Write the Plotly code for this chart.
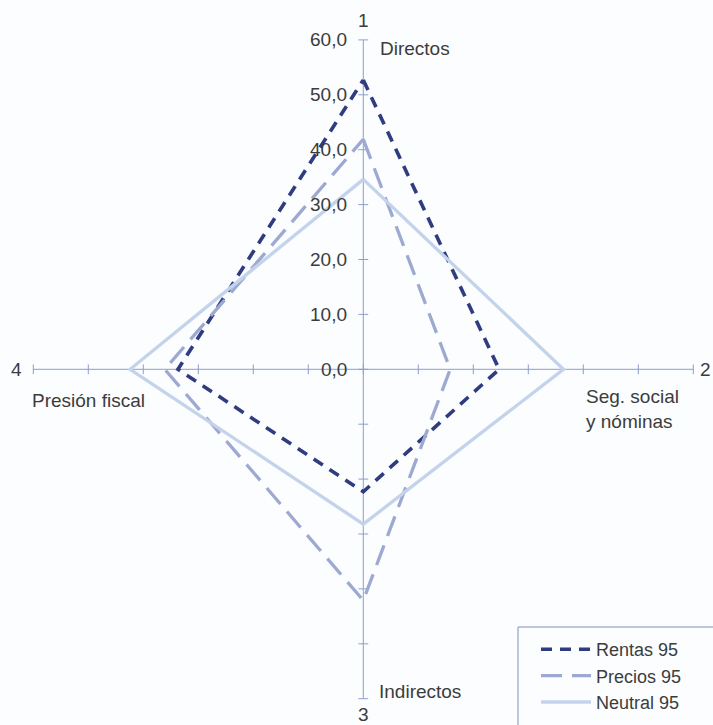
import plotly.graph_objects as go

# ---- data ----
categories = ["Directos", "Seg. social<br>y nóminas", "Indirectos", "Presión fiscal"]
axis_numbers = ["1", "2", "3", "4"]
series_names = ["Rentas 95", "Precios 95", "Neutral 95"]
rentas = [52.7, 24.7, 22.3, 33.7]
precios = [41.9, 15.8, 42.1, 36.1]
neutral = [34.6, 36.4, 28.2, 42.4]
tick_values = [0, 10, 20, 30, 40, 50, 60]
tick_labels = [f"{v:.1f}".replace(".", ",") for v in tick_values]
axis_max = 60

# directions of the 4 axes: up, right, down, left
dirs = [(0, 1), (1, 0), (0, -1), (-1, 0)]


def to_xy(vals):
    xs = [d[0] * v for d, v in zip(dirs, vals)]
    ys = [d[1] * v for d, v in zip(dirs, vals)]
    return xs + xs[:1], ys + ys[:1]


AXIS_COL = "#8e9ecf"
TEXT_COL = "#3c3c3c"
FONT = "Liberation Sans, Arial, sans-serif"
FS = 19

fig = go.Figure()

# axis lines
fig.add_trace(go.Scatter(x=[-axis_max, axis_max], y=[0, 0], mode="lines",
                         line=dict(color=AXIS_COL, width=1), showlegend=False, hoverinfo="skip"))
fig.add_trace(go.Scatter(x=[0, 0], y=[-axis_max, axis_max], mode="lines",
                         line=dict(color=AXIS_COL, width=1), showlegend=False, hoverinfo="skip"))
# tick marks
tv_all = [-v for v in tick_values[:0:-1]] + tick_values
fig.add_trace(go.Scatter(x=tv_all, y=[0] * len(tv_all), mode="markers",
                         marker=dict(symbol="line-ns", size=7, line=dict(color=AXIS_COL, width=1)),
                         showlegend=False, hoverinfo="skip"))
fig.add_trace(go.Scatter(x=[0] * len(tv_all), y=tv_all, mode="markers",
                         marker=dict(symbol="line-ew", size=7, line=dict(color=AXIS_COL, width=1)),
                         showlegend=False, hoverinfo="skip"))

styles = [
    dict(color="#2f3c80", width=3.6, dash="11px,8px"),
    dict(color="#9ea9d2", width=3.3, dash="21px,10px"),
    dict(color="#c4d3ec", width=3.3, dash="solid"),
]
for name, vals, st in zip(series_names, [rentas, precios, neutral], styles):
    xs, ys = to_xy(vals)
    fig.add_trace(go.Scatter(x=xs, y=ys, mode="lines", name=name, line=st))

annotations = []
# tick labels
for v, t in zip(tick_values, tick_labels):
    annotations.append(dict(x=-2.6, y=v, text=t, xanchor="right", yanchor="middle",
                            showarrow=False, font=dict(size=FS, color=TEXT_COL, family=FONT)))
# axis numbers
num_pos = [(0, 63.6, "center"), (62.2, 0, "center"), (0, -62.9, "center"), (-63.1, 0, "center")]
for n, (x, y, xa) in zip(axis_numbers, num_pos):
    annotations.append(dict(x=x, y=y, text=n, xanchor=xa, yanchor="middle", showarrow=False,
                            font=dict(size=FS, color=TEXT_COL, family=FONT)))
# category labels
cat_pos = [(2.6, 58.4), (40.1, -7.3), (2.4, -58.6), (-60.6, -5.6)]
for c, (x, y) in zip(categories, cat_pos):
    annotations.append(dict(x=x, y=y, text=c, xanchor="left", yanchor="middle", align="left",
                            showarrow=False, font=dict(size=FS, color=TEXT_COL, family=FONT)))

W, H = 713, 725
cx, cy = 363.3, 369.3
sx, sy = 5.5, 5.49

fig.update_layout(
    width=W, height=H,
    margin=dict(l=0, r=0, t=0, b=0, autoexpand=False),
    paper_bgcolor="#fbfdfe", plot_bgcolor="#fbfdfe",
    xaxis=dict(visible=False, range=[-cx / sx, (W - cx) / sx], fixedrange=True),
    yaxis=dict(visible=False, range=[-(H - cy) / sy, cy / sy], fixedrange=True),
    annotations=annotations,
    showlegend=True,
    legend=dict(x=536 / W, y=1 - 631 / H, xanchor="left", yanchor="top",
                bgcolor="rgba(0,0,0,0)", font=dict(size=18, color=TEXT_COL, family=FONT),
                tracegroupgap=0, itemwidth=50),
    shapes=[dict(type="rect", xref="paper", yref="paper", x0=518 / W, x1=1.02,
                 y0=-0.02, y1=1 - 627 / H, line=dict(color="#8090c0", width=1),
                 fillcolor="rgba(0,0,0,0)")],
)

fig.write_html("out.html")
